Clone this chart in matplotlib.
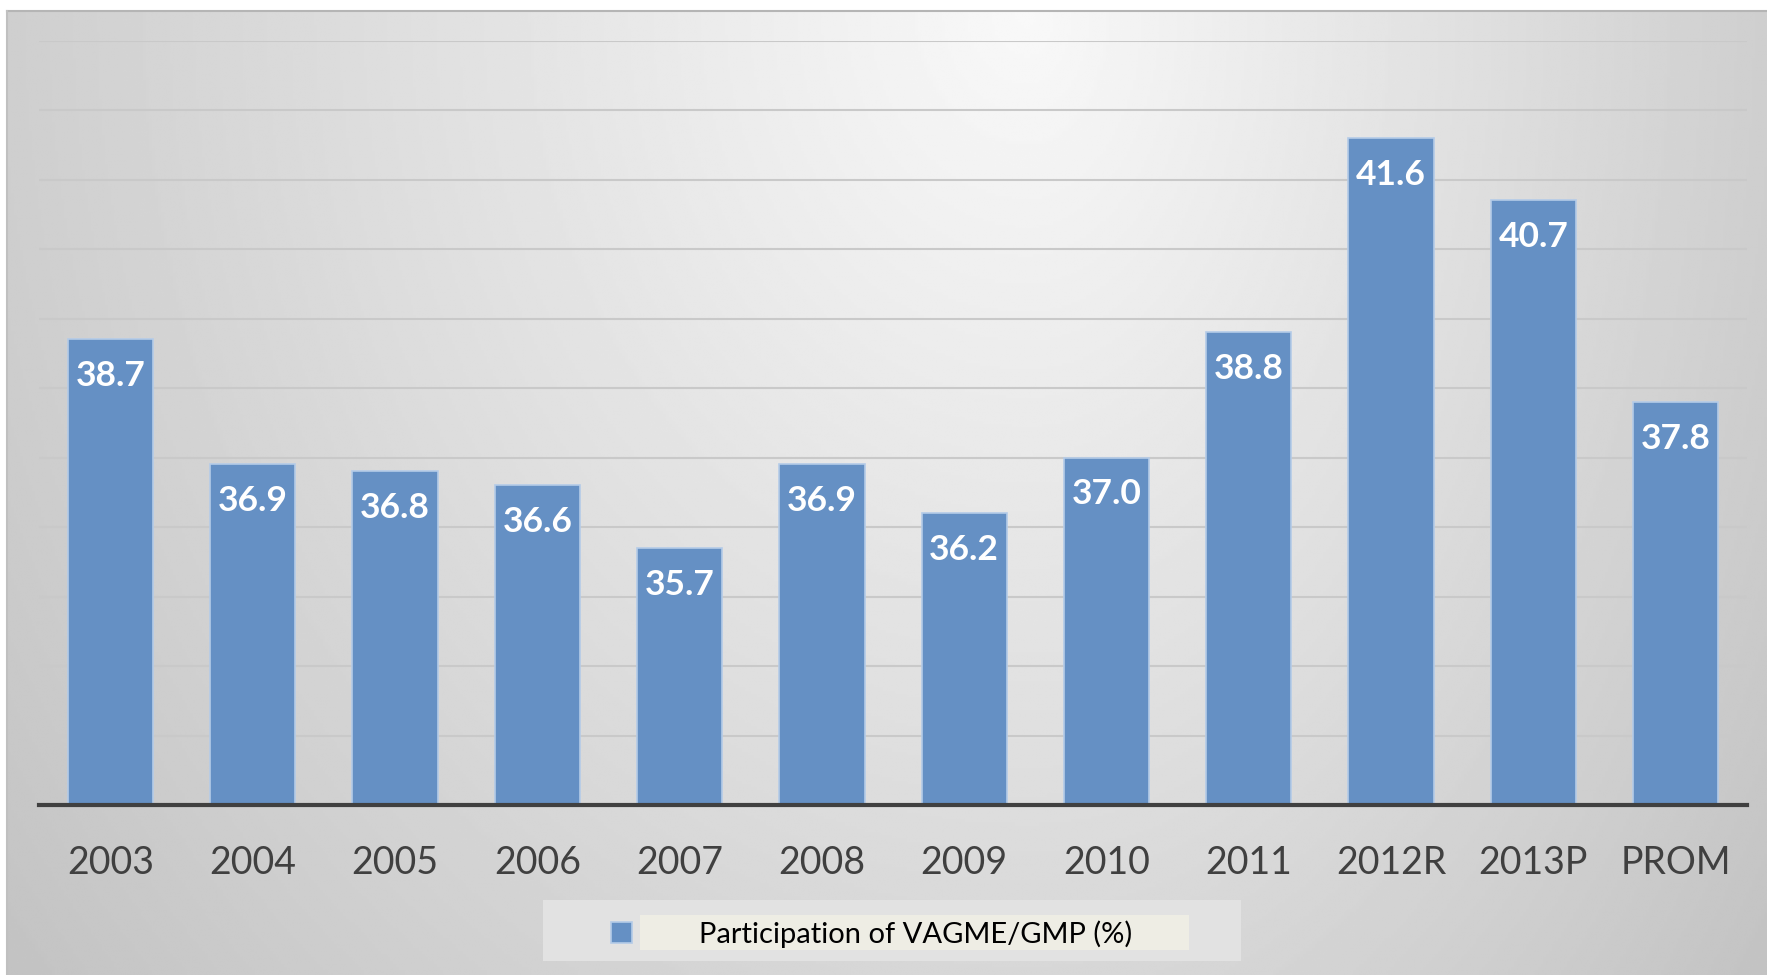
import numpy as np
import matplotlib
matplotlib.use("Agg")
import matplotlib.pyplot as plt
from matplotlib.patches import Rectangle

categories = ["2003", "2004", "2005", "2006", "2007", "2008", "2009", "2010",
              "2011", "2012R", "2013P", "PROM"]
values = [38.7, 36.9, 36.8, 36.6, 35.7, 36.9, 36.2, 37.0, 38.8, 41.6, 40.7, 37.8]
series_name = "Participation of VAGME/GMP (%)"

plt.rcParams['font.family'] = ['Lato', 'DejaVu Sans']

W, H = 1767, 975
fig = plt.figure(figsize=(W / 100, H / 100), dpi=100)
fig.patch.set_facecolor("white")

# background gradient panel
bx0, by1 = 7 / W, 1 - 11 / H
bg = fig.add_axes([bx0, 0, 1 - bx0, by1], zorder=-10)
ny, nx = 300, 600
xs = np.linspace(0, 1, nx)
ys = np.linspace(0, 1, ny)
X, Y = np.meshgrid(xs, ys)
cx = 0.58
dx = np.where(X < cx, (cx - X) / cx, (X - cx) / (1 - cx))
r = np.sqrt(dx ** 2 + (Y / 1.25) ** 2)
v = np.clip(0.975 - 0.165 * r, 0, 1)
bg.imshow(v, cmap="gray", vmin=0, vmax=1, aspect="auto", extent=[0, 1, 1, 0],
          interpolation="bilinear")
bg.set_xlim(0, 1)
bg.set_ylim(1, 0)
bg.axis("off")
# border lines
fig.add_artist(plt.Line2D([bx0, 1], [by1, by1], color="#b5b5b5", lw=1.5))
fig.add_artist(plt.Line2D([bx0, bx0], [0, by1], color="#c0c0c0", lw=1.5))

ax = fig.add_axes([39.4 / W, 1 - 805 / H, (1746.7 - 39.4) / W, (805 - 40.6) / H])
ax.patch.set_alpha(0)
x = np.arange(len(categories))
bars = ax.bar(x, values, width=0.6, bottom=0, color="#6590c4",
              edgecolor="#b4cbe8", linewidth=1.2, zorder=3, label=series_name)
ax.set_ylim(32, 43)
ax.set_xlim(-0.5, len(categories) - 0.5)
ax.set_yticks(np.arange(32, 44, 1))
ax.yaxis.grid(True, color="#c9c9c9", lw=1.5, zorder=0)
ax.tick_params(axis="y", left=False, labelleft=False)
ax.tick_params(axis="x", bottom=False, labelsize=27, labelcolor="#404040", pad=25)
ax.set_xticks(x)
ax.set_xticklabels(categories)
for s in ["top", "right", "left"]:
    ax.spines[s].set_visible(False)
ax.spines["bottom"].set_color("#404040")
ax.spines["bottom"].set_linewidth(3)
ax.spines["bottom"].set_zorder(5)

for xi, val in zip(x, values):
    ax.annotate(f"{val:.1f}", (xi, val), xytext=(0, -15), textcoords="offset points",
                ha="center", va="top", color="white", fontsize=25.5, fontweight="bold",
                zorder=6)

# legend
fig.add_artist(Rectangle((543 / W, 1 - 961 / H), (1241 - 543) / W, (961 - 900) / H,
                         transform=fig.transFigure, facecolor="#e2e2e2",
                         edgecolor="none", zorder=1))
fig.add_artist(Rectangle((640 / W, 1 - 950 / H), (1189 - 640) / W, (950 - 915) / H,
                         transform=fig.transFigure, facecolor="#eeede4",
                         edgecolor="none", zorder=2))
leg = fig.legend(handles=[bars], labels=[series_name], loc="center",
                 bbox_to_anchor=(872 / W, 1 - 934 / H), frameon=False,
                 fontsize=21, handlelength=0.72, handleheight=0.72,
                 handletextpad=2.3, labelcolor="black")
leg.set_zorder(4)

fig.savefig("out.png", dpi=100, facecolor="white")
